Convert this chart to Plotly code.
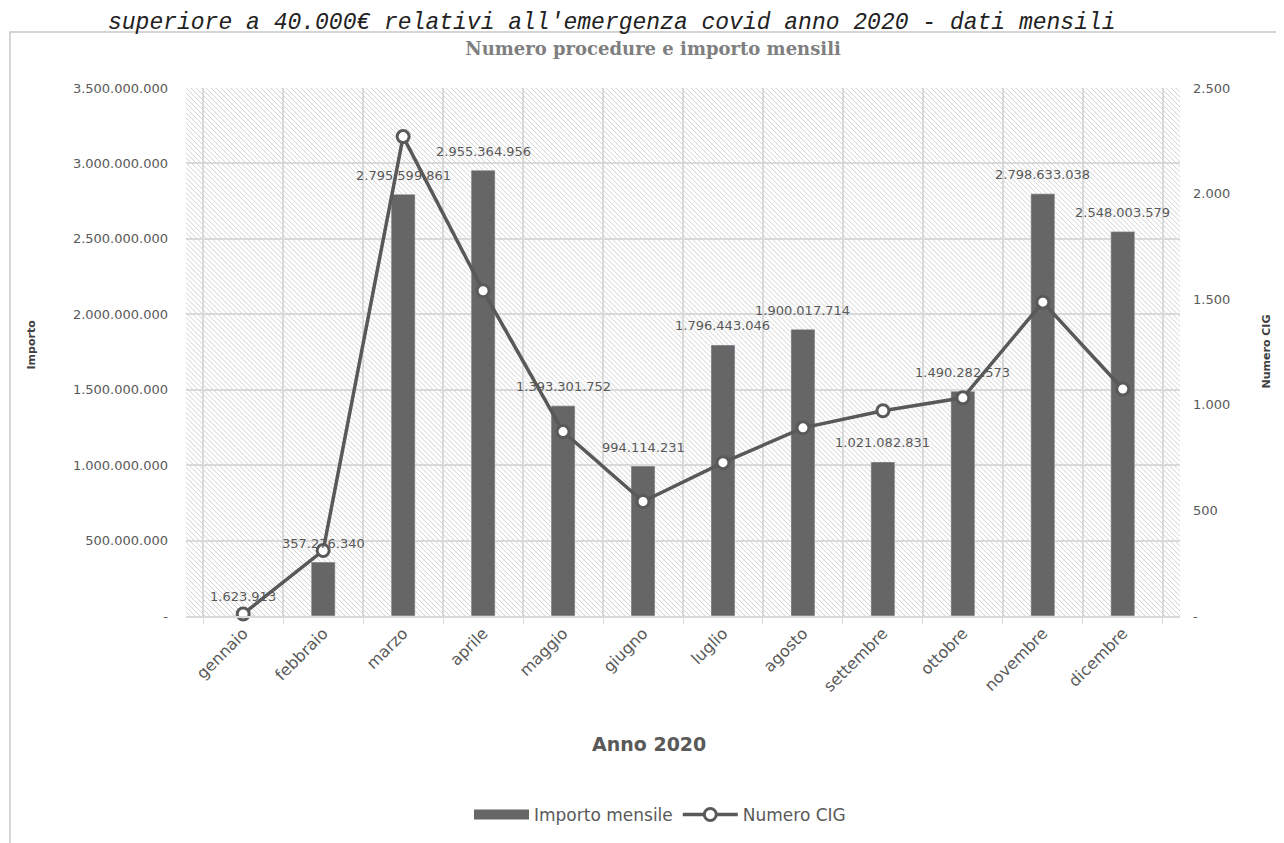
import base64
import plotly.graph_objects as go

# dati mensili 2020
mesi = ['gennaio', 'febbraio', 'marzo', 'aprile', 'maggio', 'giugno',
        'luglio', 'agosto', 'settembre', 'ottobre', 'novembre', 'dicembre']
importo = [1623913, 357276340, 2795599861, 2955364956, 1393301752, 994114231,
           1796443046, 1900017714, 1021082831, 1490282573, 2798633038, 2548003579]
numero_cig = [10, 310, 2270, 1540, 873, 542, 726, 891, 972, 1033, 1486, 1075]

# etichette assi
y1_vals = [0, 500000000, 1000000000, 1500000000, 2000000000, 2500000000, 3000000000, 3500000000]
y1_text = ['-', '500.000.000', '1.000.000.000', '1.500.000.000', '2.000.000.000',
           '2.500.000.000', '3.000.000.000', '3.500.000.000']
y2_vals = [0, 500, 1000, 1500, 2000, 2500]
y2_text = ['-', '500', '1.000', '1.500', '2.000', '2.500']

GREY = '#595959'
BAR = '#666666'
GRID = '#d9d9d9'
FONT = 'DejaVu Sans'

# la pagina ha 8px di margine: la figura e' 1276x835, area del grafico 994x529
W, H = 1276, 835
PL, PT, PW, PH = 178, 80, 994, 529


def px(x):
    # pixel orizzontale (figura) -> coordinata paper
    return (x - PL) / PW


def py(y):
    # pixel verticale (figura) -> coordinata paper
    return (PT + PH - y) / PH


# sfondo tratteggiato dell'area del grafico
svg = ('<svg xmlns="http://www.w3.org/2000/svg" width="994" height="529">'
       '<defs><pattern id="h" width="5" height="5" patternUnits="userSpaceOnUse">'
       '<path d="M-1,-1 L6,6 M-1,4 L1,6 M4,-1 L6,1" stroke="#d2d2d2" stroke-width="1"/>'
       '</pattern></defs><rect width="100%" height="100%" fill="url(#h)"/></svg>')
hatch = 'data:image/svg+xml;base64,' + base64.b64encode(svg.encode()).decode()

fig = go.Figure()
fig.add_trace(go.Bar(
    x=mesi, y=importo, name='Importo mensile', showlegend=False,
    marker_color=BAR, width=0.3,
))
# voce di legenda con il rettangolo largo come in Excel
fig.add_trace(go.Scatter(
    x=[None], y=[None], name='Importo mensile', mode='lines',
    line=dict(color=BAR, width=10),
))
fig.add_trace(go.Scatter(
    x=mesi, y=numero_cig, name='Numero CIG', yaxis='y2', mode='lines+markers',
    line=dict(color=GREY, width=3.5),
    marker=dict(symbol='circle', size=12, color='white', line=dict(color=GREY, width=3)),
    cliponaxis=False,
))

# etichette dei valori sopra le barre
labels = []
for m, v in zip(mesi, importo):
    labels.append(dict(x=m, y=v, xref='x', yref='y', text=f'{v:,}'.replace(',', '.'),
                       yshift=19, yanchor='middle', showarrow=False,
                       font=dict(family=FONT, size=13, color=GREY)))

fig.update_layout(
    width=W, height=H,
    margin=dict(l=PL, r=W - PL - PW, t=PT, b=H - PT - PH),
    paper_bgcolor='white', plot_bgcolor='rgba(0,0,0,0)',
    font=dict(family=FONT, color=GREY),
    title=dict(text='<b>Numero procedure e importo mensili</b>', x=(653 - 8) / W, xanchor='center',
               y=1 - 41 / H, yanchor='middle',
               font=dict(family='DejaVu Serif', size=18, color='#7f7f7f')),
    xaxis=dict(type='category', tickson='boundaries', showgrid=True, gridcolor=GRID, gridwidth=1.5,
               ticks='outside', ticklen=6, tickcolor=GRID, showline=True, linecolor=GRID, linewidth=1.5,
               tickangle=-45, tickfont=dict(size=16, color=GREY)),
    yaxis=dict(range=[0, 3500000000], tickvals=y1_vals, ticktext=y1_text, showgrid=True,
               gridcolor=GRID, gridwidth=1.5, zeroline=False, ticklabelstandoff=17,
               tickfont=dict(size=13, color=GREY)),
    yaxis2=dict(range=[0, 2500], tickvals=y2_vals, ticktext=y2_text, overlaying='y', side='right',
                showgrid=False, zeroline=False, ticklabelstandoff=12,
                tickfont=dict(size=13, color=GREY)),
    legend=dict(orientation='h', x=px(652), xanchor='center', y=py(807), yanchor='middle',
                itemwidth=55, font=dict(size=17, color=GREY)),
    images=[dict(source=hatch, xref='paper', yref='paper', x=0, y=1, sizex=1, sizey=1,
                 xanchor='left', yanchor='top', sizing='stretch', layer='below')],
    shapes=[dict(type='rect', xref='paper', yref='paper', x0=px(2), x1=px(1272), y0=py(860), y1=py(24),
                 line=dict(color='#c8c8c8', width=1.5), fillcolor='rgba(0,0,0,0)', layer='below')],
    annotations=labels + [
        dict(text='<b>Anno 2020</b>', xref='paper', yref='paper', x=px(641), y=py(737),
             xanchor='center', yanchor='middle', showarrow=False,
             font=dict(size=19, color=GREY)),
        dict(text='<b>Importo</b>', xref='paper', yref='paper', x=px(24), y=py(337),
             xanchor='center', yanchor='middle', textangle=-90, showarrow=False,
             font=dict(size=11, color='#404040')),
        dict(text='<b>Numero CIG</b>', xref='paper', yref='paper', x=px(1259), y=py(344),
             xanchor='center', yanchor='middle', textangle=-90, showarrow=False,
             font=dict(size=11, color='#404040')),
        dict(text="superiore a 40.000€ relativi all'emergenza covid anno 2020 - dati mensili",
             xref='paper', yref='paper', x=px(604), y=py(0), xanchor='center', yanchor='top',
             showarrow=False,
             font=dict(family='Liberation Mono', size=23, color='#222222', style='italic')),
    ],
)

fig.write_html("out.html")
